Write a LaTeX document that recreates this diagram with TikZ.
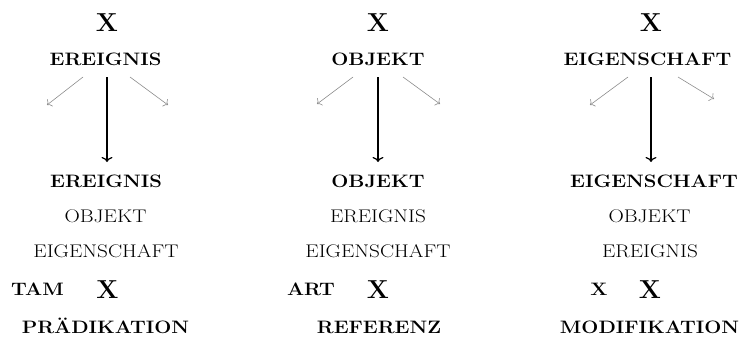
\documentclass[tikz,border=0pt]{standalone}
\usetikzlibrary{calc,arrows.meta}
\newcommand\hdtxt[1]{\scalebox{1.12}[1]{\fontsize{18}{18}\selectfont\bfseries #1}}
\newcommand\rgtxt[1]{\scalebox{1.16}[1]{\fontsize{18.3}{18}\selectfont #1}}
\tikzset{
  lbl/.style={inner sep=0pt, anchor=base},
  bigx/.style={lbl, font=\fontsize{26}{26}\selectfont\bfseries},
  side/.style={draw=black!45, line width=0.6pt, -{To[length=4pt,width=9pt]}},
  main/.style={draw=black, line width=1.2pt, -{To[length=5pt,width=11pt]}},
}
\begin{document}
\begin{tikzpicture}[x=1pt,y=-1pt]
\useasboundingbox (0,0) rectangle (746,340);
% column 1
\node[bigx] (x1) at (107,31.5) {X};
\node[lbl] (a1) at (105.5,65) {\hdtxt{EREIGNIS}};
\node[lbl] (b1) at (106,187) {\hdtxt{EREIGNIS}};
\node[lbl] (c1) at (105.5,222.5) {\rgtxt{OBJEKT}};
\node[lbl] (d1) at (106,257.5) {\rgtxt{EIGENSCHAFT}};
\node[lbl] (t1) at (37.5,295) {\hdtxt{TAM}};
\node[bigx] (y1) at (107.5,298) {X};
\node[lbl] (e1) at (105.5,333) {\hdtxt{PRÄDIKATION}};
\coordinate (ls1) at (83,77);
\coordinate (le1) at (47,105);
\coordinate (rs1) at (130,77);
\coordinate (re1) at (168,105);
\coordinate (ms1) at (107,77);
\coordinate (me1) at (107,162);
% column 2
\node[bigx] (x2) at (378,31.5) {X};
\node[lbl] (a2) at (378,65) {\hdtxt{OBJEKT}};
\node[lbl] (b2) at (378,187) {\hdtxt{OBJEKT}};
\node[lbl] (c2) at (378,222.5) {\rgtxt{EREIGNIS}};
\node[lbl] (d2) at (378,257.5) {\rgtxt{EIGENSCHAFT}};
\node[lbl] (t2) at (311,295) {\hdtxt{ART}};
\node[bigx] (y2) at (378,298) {X};
\node[lbl] (e2) at (379,333) {\hdtxt{REFERENZ}};
\coordinate (ls2) at (353,77);
\coordinate (le2) at (317,104);
\coordinate (rs2) at (403,77);
\coordinate (re2) at (440,104);
\coordinate (ms2) at (378,77);
\coordinate (me2) at (378,162);
% column 3
\node[bigx] (x3) at (651,31.5) {X};
\node[lbl] (a3) at (647.5,65) {\hdtxt{EIGENSCHAFT}};
\node[lbl] (b3) at (654,187) {\hdtxt{EIGENSCHAFT}};
\node[lbl] (c3) at (649.5,222.5) {\rgtxt{OBJEKT}};
\node[lbl] (d3) at (650,257.5) {\rgtxt{EREIGNIS}};
\node[lbl] (t3) at (599,295) {\hdtxt{X}};
\node[bigx] (y3) at (650,298) {X};
\node[lbl] (e3) at (649.5,333) {\hdtxt{MODIFIKATION}};
\coordinate (ls3) at (628,77);
\coordinate (le3) at (590,105);
\coordinate (rs3) at (678,77);
\coordinate (re3) at (714,99);
\coordinate (ms3) at (651,77);
\coordinate (me3) at (651,162);
% arrows
\foreach \i in {1,2,3}{
  \draw[side] (ls\i) -- (le\i);
  \draw[side] (rs\i) -- (re\i);
  \draw[main] (ms\i) -- (me\i);
}
\end{tikzpicture}
\end{document}
